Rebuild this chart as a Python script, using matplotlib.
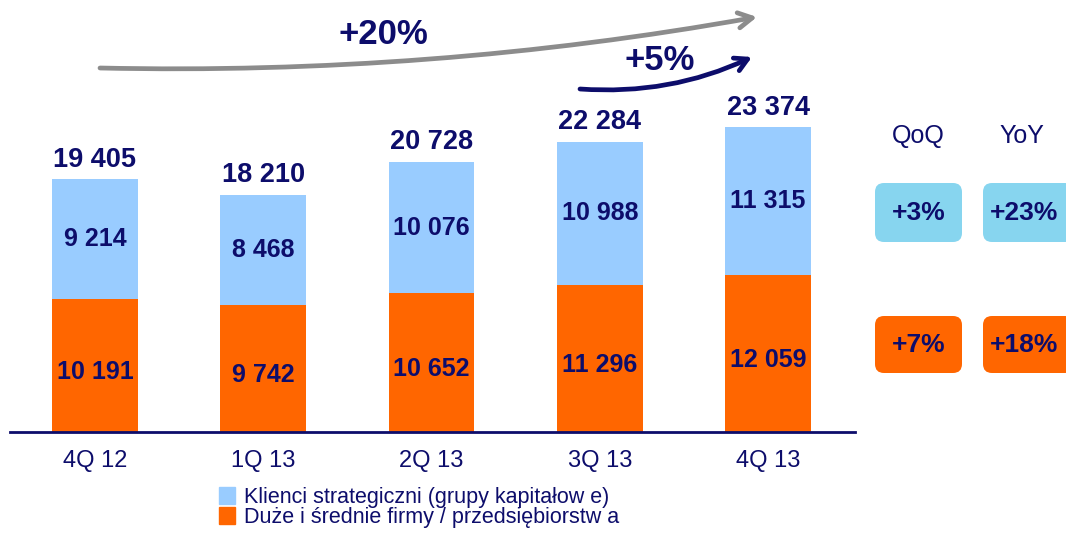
import matplotlib
matplotlib.use("Agg")
import matplotlib.pyplot as plt
import numpy as np
from matplotlib.patches import FancyBboxPatch, Patch

quarters = ["4Q 12", "1Q 13", "2Q 13", "3Q 13", "4Q 13"]
strategic = [9214, 8468, 10076, 10988, 11315]
mid_firms = [10191, 9742, 10652, 11296, 12059]
totals = [19405, 18210, 20728, 22284, 23374]
series_names = ["Klienci strategiczni (grupy kapitałow e)",
                "Duże i średnie firmy / przedsiębiorstw a"]
change_headers = ["QoQ", "YoY"]
strategic_change = ["+3%", "+23%"]
mid_change = ["+7%", "+18%"]
growth_total = "+20%"
growth_last = "+5%"

NAVY = "#0d0d6b"
BLUE = "#99ccff"
ORANGE = "#ff6600"
BOX_BLUE = "#87d5ef"

plt.rcParams["font.family"] = ["Liberation Sans", "DejaVu Sans"]

W, H = 1066, 533
fig = plt.figure(figsize=(W / 100, H / 100), dpi=100)


def px(x, y):
    # pixel (from top-left) -> figure fraction
    return x / W, 1 - y / H


# main bar axes: x-axis line from 10 to 855 px, baseline at y=432
x0, base = px(10, 432)
x1, _ = px(855, 432)
ax = fig.add_axes([x0, base, x1 - x0, 391 / H])
xs = np.arange(len(quarters))
ax.bar(xs, mid_firms, width=0.51, color=ORANGE, zorder=2)
ax.bar(xs, strategic, width=0.51, bottom=mid_firms, color=BLUE, zorder=2)
ax.set_xlim(-0.505, 4.517)
ax.set_ylim(0, 30000)

fmt = lambda v: f"{v:,}".replace(",", " ")
for i in xs:
    ax.text(i, mid_firms[i] / 2 - 500, fmt(mid_firms[i]), ha="center", va="center",
            fontsize=18, fontweight="bold", color=NAVY)
    ax.text(i, mid_firms[i] + strategic[i] / 2, fmt(strategic[i]), ha="center", va="center",
            fontsize=18, fontweight="bold", color=NAVY)
    ax.text(i, totals[i] + 500, fmt(totals[i]), ha="center", va="bottom",
            fontsize=19.5, fontweight="bold", color=NAVY)

for s in ["top", "right", "left"]:
    ax.spines[s].set_visible(False)
ax.spines["bottom"].set_color(NAVY)
ax.spines["bottom"].set_linewidth(2)
ax.set_yticks([])
ax.set_xticks(xs)
ax.set_xticklabels(quarters, fontsize=17, color=NAVY)
ax.tick_params(axis="x", length=0, pad=13)

# overlay in pixel coordinates for arrows, boxes
ov = fig.add_axes([0, 0, 1, 1])
ov.set_xlim(0, W)
ov.set_ylim(H, 0)
ov.axis("off")
ov.patch.set_alpha(0)

ov.annotate("", xy=(757, 17), xytext=(100, 68),
            arrowprops=dict(arrowstyle="->,head_length=1.0,head_width=0.55", color="#8c8c8c",
                            lw=3.4, connectionstyle="arc3,rad=0.05", shrinkA=0, shrinkB=0))
ov.text(383, 35, growth_total, ha="center", va="center", fontsize=25, fontweight="bold", color=NAVY)
ov.annotate("", xy=(752, 57), xytext=(580, 89),
            arrowprops=dict(arrowstyle="->,head_length=0.9,head_width=0.5", color=NAVY,
                            lw=3.4, connectionstyle="arc3,rad=0.13", shrinkA=0, shrinkB=0))
ov.text(660, 60, growth_last, ha="center", va="center", fontsize=25, fontweight="bold", color=NAVY)

# change boxes
col_x = [(875, 962), (983, 1074)]
head_x = [918, 1022]
for j, head in enumerate(change_headers):
    ov.text(head_x[j], 136, head, ha="center", va="center", fontsize=18, color=NAVY)
    for (top, bot), label, col in [((183, 242), strategic_change[j], BOX_BLUE),
                                   ((316, 373), mid_change[j], ORANGE)]:
        l, r = col_x[j]
        ov.add_patch(FancyBboxPatch((l + 9, top + 9), r - l - 18, bot - top - 18,
                                    boxstyle="round,pad=9", fc=col, ec="none"))
        tx = (l + r) / 2 if j == 0 else 1024
        ov.text(tx, (top + bot) / 2, label, ha="center", va="center",
                fontsize=19, fontweight="bold", color=NAVY)

handles = [Patch(color=BLUE), Patch(color=ORANGE)]
fig.legend(handles, series_names, loc="upper left", bbox_to_anchor=px(219, 487),
           frameon=False, fontsize=15.5, labelcolor=NAVY, handlelength=0.75, handleheight=0.8,
           handletextpad=0.4, labelspacing=-0.05, borderpad=0, borderaxespad=0)

fig.savefig("out.png", dpi=100)
